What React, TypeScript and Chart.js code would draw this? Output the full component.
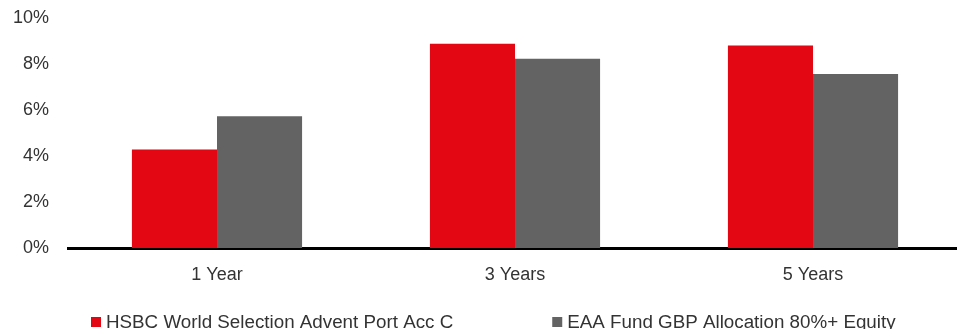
import React, { useEffect, useRef } from "react";
import { Chart, registerables } from "chart.js";

Chart.register(...registerables);

const categories = ["1 Year", "3 Years", "5 Years"];
const seriesNames = [
  "HSBC World Selection Advent Port Acc C",
  "EAA Fund GBP Allocation 80%+ Equity",
];
const hsbcValues = [4.28, 8.88, 8.8];
const peerValues = [5.73, 8.23, 7.57];
const yTicks = [0, 2, 4, 6, 8, 10];

const seriesColors = ["#E30613", "#636363"];
const textColor = "#333333";
const fontFamily = '"Liberation Sans", Arial, Helvetica, sans-serif';

const bottomLegend = {
  id: "bottomLegend",
  afterDraw(chart: any) {
    const ctx = chart.ctx;
    ctx.save();
    ctx.font = `18.8px ${fontFamily}`;
    ctx.textBaseline = "middle";
    ctx.textAlign = "left";
    let x = 91;
    const cy = 322;
    chart.data.datasets.forEach((ds: any) => {
      ctx.fillStyle = ds.backgroundColor;
      ctx.fillRect(x, cy - 5, 10, 10);
      ctx.fillStyle = textColor;
      ctx.fillText(ds.label, x + 15, cy + 0.5);
      x += 15 + ctx.measureText(ds.label).width + 99;
    });
    ctx.restore();
  },
};

export default function App() {
  const canvasRef = useRef<HTMLCanvasElement | null>(null);

  useEffect(() => {
    if (!canvasRef.current) return;
    const chart = new Chart(canvasRef.current, {
      type: "bar",
      data: {
        labels: categories,
        datasets: [
          {
            label: seriesNames[0],
            data: hsbcValues,
            backgroundColor: seriesColors[0],
            borderWidth: 0,
            barPercentage: 1,
            categoryPercentage: 0.571,
          },
          {
            label: seriesNames[1],
            data: peerValues,
            backgroundColor: seriesColors[1],
            borderWidth: 0,
            barPercentage: 1,
            categoryPercentage: 0.571,
          },
        ],
      },
      options: {
        responsive: false,
        animation: false,
        layout: { padding: { top: 18, left: 0, right: 0, bottom: 0 } },
        plugins: {
          legend: { display: false },
          tooltip: { enabled: false },
        },
        scales: {
          x: {
            z: 1,
            grid: { display: false },
            border: { display: true, color: "#000000", width: 3 },
            ticks: {
              color: textColor,
              font: { size: 18, family: fontFamily },
              padding: 8,
            },
            afterFit: (s: any) => {
              s.height = 81;
              s.paddingLeft = 0;
              s.paddingRight = 0;
            },
          },
          y: {
            min: 0,
            max: 10,
            grid: { display: false, drawTicks: false },
            border: { display: false },
            afterBuildTicks: (s: any) => {
              s.ticks = yTicks.map((v) => ({ value: v }));
            },
            ticks: {
              color: textColor,
              font: { size: 18, family: fontFamily },
              padding: 19,
              callback: (v: any) => `${v}%`,
            },
            afterFit: (s: any) => {
              s.width = 68;
              s.paddingTop = 0;
              s.paddingBottom = 0;
            },
          },
        },
      },
      plugins: [bottomLegend],
    });
    return () => chart.destroy();
  }, []);

  return (
    <div
      style={{
        position: "absolute",
        left: 0,
        top: 0,
        width: 957,
        height: 329,
        overflow: "hidden",
        background: "#ffffff",
      }}
    >
      <canvas ref={canvasRef} width={962} height={329} style={{ display: "block" }} />
    </div>
  );
}
